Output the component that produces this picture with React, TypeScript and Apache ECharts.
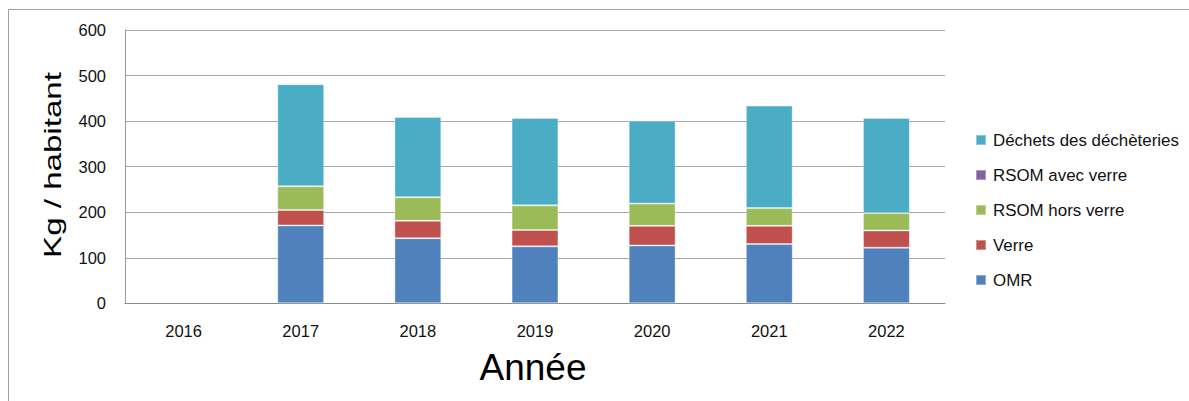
import React, { useEffect, useRef } from "react";
import * as echarts from "echarts";

const years = ["2016", "2017", "2018", "2019", "2020", "2021", "2022"];
const omr = [null, 171, 143, 125, 127, 130, 122];
const verre = [null, 34, 38, 36, 43, 40, 38];
const rsomHorsVerre = [null, 52, 52, 54, 49, 39, 38];
const rsomAvecVerre = [null, null, null, null, null, null, null];
const dechetteries = [null, 224, 176, 192, 182, 225, 209];
const yTicks = [0, 100, 200, 300, 400, 500, 600];

const seriesNames = ["OMR", "Verre", "RSOM hors verre", "RSOM avec verre", "Déchets des déchèteries"];
const seriesColors = ["#4F81BD", "#C0504D", "#9BBB59", "#8064A2", "#4BACC6"];
const seriesData = [omr, verre, rsomHorsVerre, rsomAvecVerre, dechetteries];
const legendOrder = ["Déchets des déchèteries", "RSOM avec verre", "RSOM hors verre", "Verre", "OMR"];

export default function App() {
  const ref = useRef<HTMLDivElement>(null);
  useEffect(() => {
    if (!ref.current) return;
    const chart = echarts.init(ref.current, undefined, { renderer: "svg" });
    const font = "Liberation Sans, Arial, sans-serif";
    chart.setOption({
      animation: false,
      backgroundColor: "#ffffff",
      grid: { left: 125, right: 244, top: 30, bottom: 97.7, containLabel: false },
      xAxis: {
        type: "category",
        data: years,
        axisLine: { show: true, lineStyle: { color: "#8a8a8a", width: 1 } },
        axisTick: { show: false },
        axisLabel: { color: "#111", fontSize: 16.5, fontFamily: font, margin: 19 },
      },
      yAxis: {
        type: "value",
        min: yTicks[0],
        max: yTicks[yTicks.length - 1],
        interval: 100,
        axisLine: { show: true, lineStyle: { color: "#9a9a9a", width: 1 } },
        axisTick: { show: false },
        axisLabel: { color: "#111", fontSize: 16.5, fontFamily: font, margin: 19 },
        splitLine: { show: true, lineStyle: { color: "#a8a8a8", width: 1 } },
      },
      legend: {
        orient: "vertical",
        left: 975,
        top: 130,
        padding: 0,
        data: legendOrder,
        icon: "rect",
        itemWidth: 10,
        itemHeight: 10,
        itemGap: 15,
        textStyle: { color: "#111", fontSize: 16.9, fontFamily: font, lineHeight: 20, padding: [0, 0, 0, 2] },
      },
      series: seriesNames.map((name, i) => ({
        name,
        type: "bar",
        stack: "total",
        data: seriesData[i],
        barWidth: "40%",
        itemStyle: { color: seriesColors[i], borderColor: "rgba(255,255,255,0.35)", borderWidth: 1 },
      })),
      graphic: [
        {
          type: "rect",
          silent: true,
          shape: { x: 8.5, y: 9.5, width: 1250, height: 450 },
          style: { fill: "none", stroke: "#a0a0a0", lineWidth: 1 },
        },
        {
          type: "text",
          x: 53,
          y: 165,
          rotation: Math.PI / 2,
          scaleX: 1.38,
          style: {
            text: "Kg / habitant",
            fontSize: 24,
            fontFamily: font,
            fill: "#000",
            textAlign: "center",
            textVerticalAlign: "middle",
          },
        },
        {
          type: "text",
          x: 533,
          y: 367,
          style: {
            text: "Année",
            fontSize: 37,
            fontFamily: font,
            fill: "#000",
            textAlign: "center",
            textVerticalAlign: "middle",
          },
        },
      ],
    });
    return () => chart.dispose();
  }, []);
  return (
    <div
      ref={ref}
      style={{ position: "fixed", left: 0, top: 0, width: 1189, height: 401 }}
    />
  );
}
